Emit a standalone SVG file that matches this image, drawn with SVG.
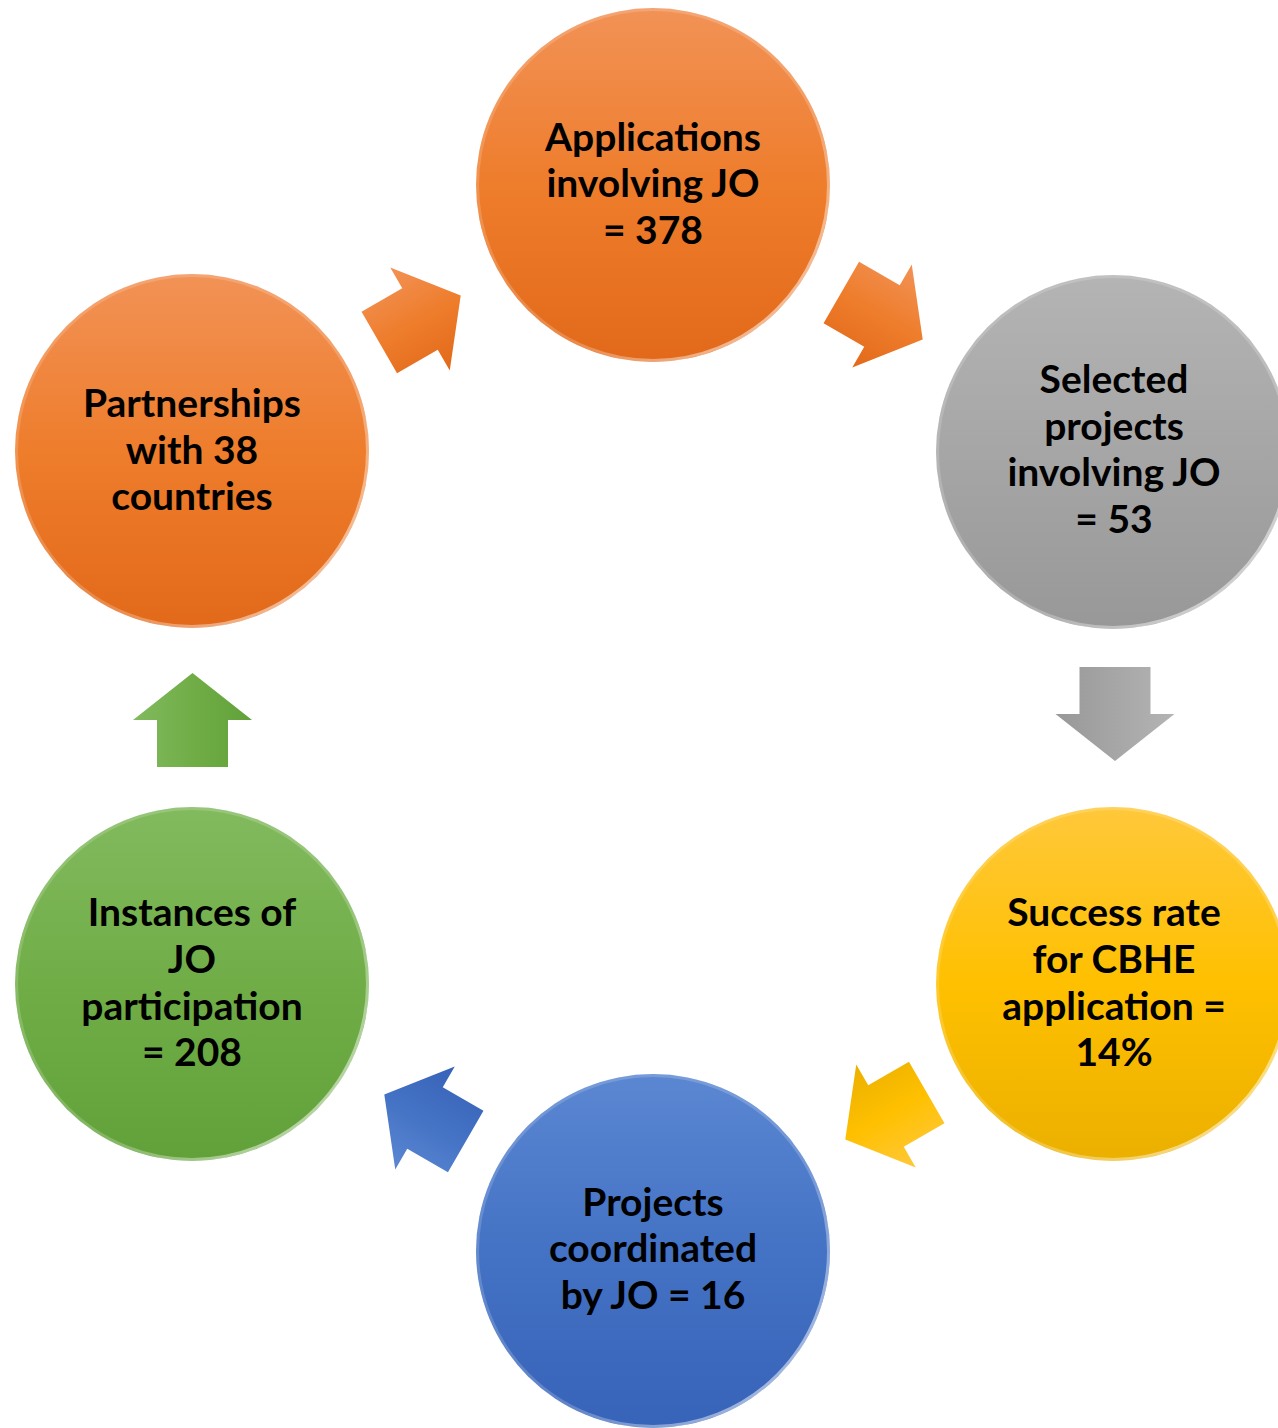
<svg xmlns="http://www.w3.org/2000/svg" width="1278" height="1428" viewBox="0 0 1278 1428">
<defs>
<linearGradient id="gOr" x1="0" y1="0" x2="0" y2="1"><stop offset="0" stop-color="#F29256"/><stop offset="0.5" stop-color="#EE7D2C"/><stop offset="1" stop-color="#E2691A"/></linearGradient>
<linearGradient id="gGy" x1="0" y1="0" x2="0" y2="1"><stop offset="0" stop-color="#B4B4B4"/><stop offset="0.5" stop-color="#A6A6A6"/><stop offset="1" stop-color="#989898"/></linearGradient>
<linearGradient id="gYe" x1="0" y1="0" x2="0" y2="1"><stop offset="0" stop-color="#FFC83A"/><stop offset="0.5" stop-color="#FFC000"/><stop offset="1" stop-color="#EBB000"/></linearGradient>
<linearGradient id="gBl" x1="0" y1="0" x2="0" y2="1"><stop offset="0" stop-color="#5B87D2"/><stop offset="0.5" stop-color="#4472C4"/><stop offset="1" stop-color="#3763B8"/></linearGradient>
<linearGradient id="gGr" x1="0" y1="0" x2="0" y2="1"><stop offset="0" stop-color="#82BA5E"/><stop offset="0.5" stop-color="#70AD47"/><stop offset="1" stop-color="#62A13A"/></linearGradient>
<linearGradient id="rim" x1="0" y1="0" x2="1" y2="1"><stop offset="0" stop-color="#FFFFFF" stop-opacity="0.15"/><stop offset="0.6" stop-color="#FFFFFF" stop-opacity="0.2"/><stop offset="1" stop-color="#FFFFFF" stop-opacity="0.7"/></linearGradient>
<path id="arw" d="M-47,-35.5 L0,-35.5 L0,-59.5 L47,0 L0,59.5 L0,35.5 L-47,35.5 Z"/>
</defs>
<style>
.t{font-family:"Lato","Liberation Sans",sans-serif;font-weight:bold;font-size:39px;fill:#000;text-anchor:middle}
.rim{fill:none;stroke:url(#rim);stroke-width:3}
</style>
<rect width="1278" height="1428" fill="#FFFFFF"/>
<g id="connectors">
<use href="#arw" transform="translate(420,319) rotate(-30)" fill="url(#gOr)"/>
<use href="#arw" transform="translate(882,316) rotate(30)" fill="url(#gOr)"/>
<use href="#arw" transform="translate(1115,714) rotate(90)" fill="url(#gGy)"/>
<use href="#arw" transform="translate(886,1116) rotate(150)" fill="url(#gYe)"/>
<use href="#arw" transform="translate(425,1118) rotate(210)" fill="url(#gBl)"/>
<use href="#arw" transform="translate(192.5,720) rotate(-90)" fill="url(#gGr)"/>
</g>
<g id="n1">
<circle cx="653" cy="185" r="177" fill="url(#gOr)"/><circle cx="653" cy="185" r="175.5" class="rim"/>
<text class="t" x="653" y="151">Applications</text>
<text class="t" x="653" y="197">involving JO</text>
<text class="t" x="653" y="244">= 378</text>
</g>
<g id="n2">
<circle cx="1113" cy="452" r="177" fill="url(#gGy)"/><circle cx="1113" cy="452" r="175.5" class="rim"/>
<text class="t" x="1114" y="393">Selected</text>
<text class="t" x="1114" y="440">projects</text>
<text class="t" x="1114" y="486">involving JO</text>
<text class="t" x="1114" y="533">= 53</text>
</g>
<g id="n3">
<circle cx="1113" cy="984" r="177" fill="url(#gYe)"/><circle cx="1113" cy="984" r="175.5" class="rim"/>
<text class="t" x="1114" y="926">Success rate</text>
<text class="t" x="1114" y="973">for CBHE</text>
<text class="t" x="1114" y="1020">application =</text>
<text class="t" x="1114" y="1066">14%</text>
</g>
<g id="n4">
<circle cx="653" cy="1251" r="177" fill="url(#gBl)"/><circle cx="653" cy="1251" r="175.5" class="rim"/>
<text class="t" x="653" y="1216">Projects</text>
<text class="t" x="653" y="1262">coordinated</text>
<text class="t" x="653" y="1309">by JO = 16</text>
</g>
<g id="n5">
<circle cx="192" cy="984" r="177" fill="url(#gGr)"/><circle cx="192" cy="984" r="175.5" class="rim"/>
<text class="t" x="192" y="926">Instances of</text>
<text class="t" x="192" y="973">JO</text>
<text class="t" x="192" y="1020">participation</text>
<text class="t" x="192" y="1066">= 208</text>
</g>
<g id="n6">
<circle cx="192" cy="451" r="177" fill="url(#gOr)"/><circle cx="192" cy="451" r="175.5" class="rim"/>
<text class="t" x="192" y="417">Partnerships</text>
<text class="t" x="192" y="464">with 38</text>
<text class="t" x="192" y="510">countries</text>
</g>
</svg>
